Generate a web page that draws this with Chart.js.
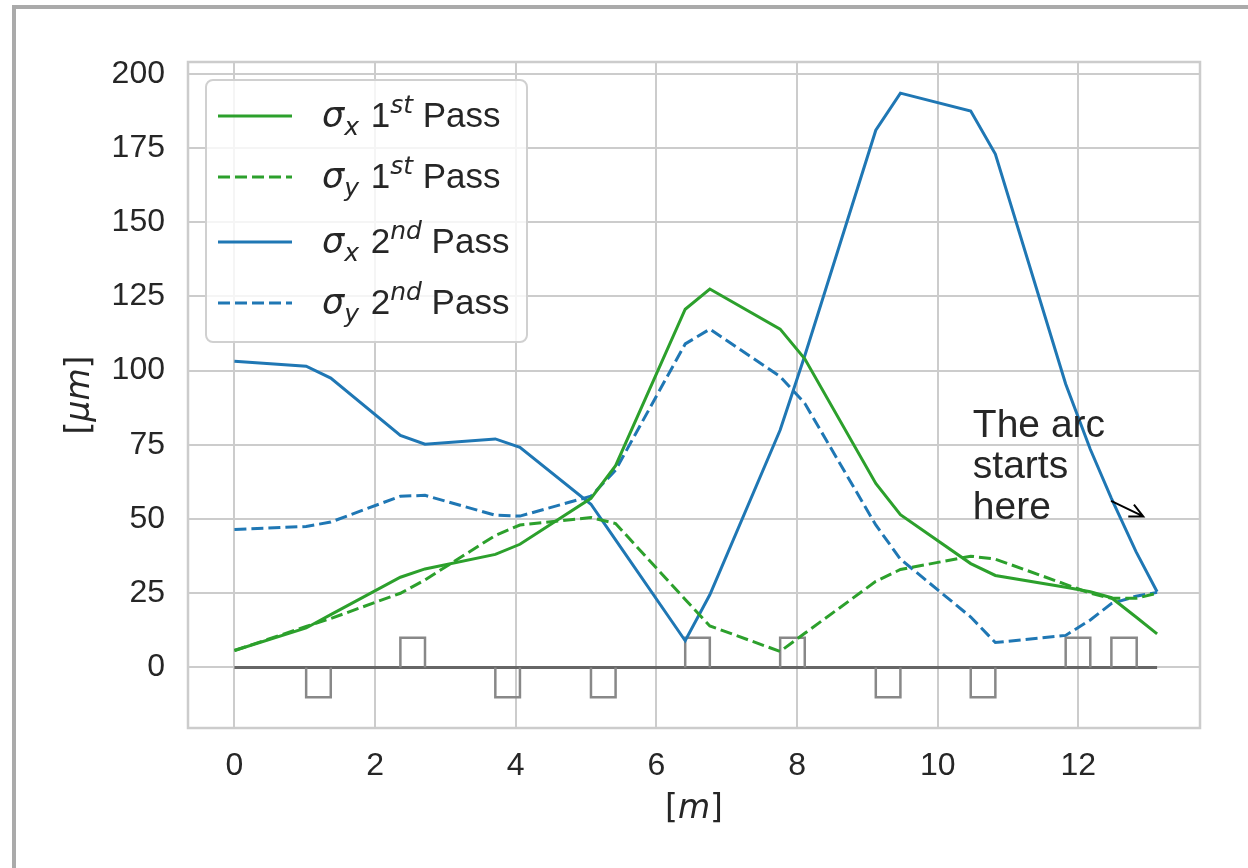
<!DOCTYPE html>
<html>
<head>
<meta charset="utf-8">
<script src="https://cdn.jsdelivr.net/npm/chart.js@4.4.1/dist/chart.umd.min.js"></script>
<style>
  html, body { margin: 0; padding: 0; background: #fff; overflow: hidden; }
  #frame { position: absolute; left: 12px; top: 5px; width: 1300px; height: 900px;
           border: 4px solid #aaaaaa; background: #fff; }
  #chart { position: absolute; left: 0; top: 0; }
</style>
</head>
<body>
<div id="frame"></div>
<canvas id="chart" width="1248" height="868"></canvas>
<script>
// positions along the line [m]
var s = [0, 1.02, 1.37, 2.36, 2.71, 3.71, 4.06, 5.07, 5.42, 6.41, 6.76,
         7.76, 8.11, 9.12, 9.47, 10.47, 10.82, 11.82, 12.17, 12.47, 12.82, 13.12];

// beam sizes [um]
var sigX1 = [5.7, 13.3, 17.8, 30.4, 33.2, 38.1, 41.5, 57, 68, 120.7, 127.5,
             114, 104, 62, 51.5, 35, 31, 27, 25.5, 23.5, 17, 11.3];
var sigY1 = [5.7, 13.8, 16.5, 25, 29.5, 44.5, 48, 50.5, 48.5, 22.9, 14,
             5.4, 11.5, 29, 33, 37.5, 36.5, 28, 25, 23.3, 23.3, 25];
var sigX2 = [103.2, 101.5, 97.5, 78.2, 75.2, 77, 74.2, 55, 43, 9, 24.5,
             80, 105, 181, 193.5, 187.5, 173, 95.5, 73.5, 57, 39, 25.5];
var sigY2 = [46.5, 47.5, 49, 57.7, 58, 51.3, 51, 57.7, 66.5, 109, 114,
             98, 89, 48, 36.5, 17, 8.4, 10.8, 16, 21.5, 24, 25.3];

// lattice: magnet start [m], length [m], sign (+1 box up, -1 box down)
var magStart = [1.02, 2.36, 3.71, 5.07, 6.41, 7.76, 9.12, 10.47, 11.82, 12.47];
var magLen   = [0.35, 0.35, 0.35, 0.35, 0.35, 0.35, 0.35, 0.35, 0.35, 0.36];
var magSign  = [-1, 1, -1, -1, 1, 1, -1, -1, 1, 1];
var magHeight = 10;

var xTicks = [0, 2, 4, 6, 8, 10, 12];
var yTicks = [0, 25, 50, 75, 100, 125, 150, 175, 200];

var GREEN = '#2ca02c', BLUE = '#1f77b4', TXT = '#262626';
var SANS = '"Liberation Sans", Arial, sans-serif';
var MATH = '"DejaVu Sans", sans-serif';

function pts(ys) {
    var out = [];
    for (var i = 0; i < s.length; i++) out.push({x: s[i], y: ys[i]});
    return out;
}

function magnetPath() {
    var out = [];
    for (var i = 0; i < magStart.length; i++) {
        var a = magStart[i], b = magStart[i] + magLen[i], h = magSign[i] * magHeight;
        out.push({x: a, y: 0}, {x: a, y: h}, {x: b, y: h}, {x: b, y: 0}, {x: b, y: null});
    }
    return out;
}

var legendRows = [
    {sub: 'x', num: '1', sup: 'st', color: GREEN, dash: []},
    {sub: 'y', num: '1', sup: 'st', color: GREEN, dash: [12, 5]},
    {sub: 'x', num: '2', sup: 'nd', color: BLUE, dash: []},
    {sub: 'y', num: '2', sup: 'nd', color: BLUE, dash: [12, 5]}
];

function drawLabel(ctx, x, y, row) {
    var F = 35;
    ctx.fillStyle = TXT;
    ctx.textAlign = 'left';
    ctx.textBaseline = 'alphabetic';
    ctx.font = 'italic ' + F + 'px ' + MATH;
    ctx.fillText('\u03c3', x, y); x += ctx.measureText('\u03c3').width;
    ctx.font = 'italic ' + Math.round(F * 0.7) + 'px ' + MATH;
    ctx.fillText(row.sub, x, y + F * 0.22); x += ctx.measureText(row.sub).width;
    ctx.font = F + 'px ' + SANS;
    x += ctx.measureText(' ').width + 2;
    ctx.fillText(row.num, x, y); x += ctx.measureText(row.num).width;
    ctx.font = 'italic ' + Math.round(F * 0.7) + 'px ' + MATH;
    ctx.fillText(row.sup, x, y - F * 0.4); x += ctx.measureText(row.sup).width;
    ctx.font = F + 'px ' + SANS;
    x += ctx.measureText(' ').width;
    ctx.fillText('Pass', x, y);
}

var decor = {
    id: 'decor',
    beforeDatasetsDraw: function(chart) {
        var ctx = chart.ctx, a = chart.chartArea;
        ctx.save();
        ctx.strokeStyle = '#cccccc';
        ctx.lineWidth = 2.5;
        ctx.strokeRect(a.left, a.top, a.right - a.left, a.bottom - a.top);
        ctx.restore();
    },
    afterDatasetsDraw: function(chart) {
        var ctx = chart.ctx, xs = chart.scales.x, ys = chart.scales.y;
        ctx.save();

        // legend
        ctx.beginPath();
        ctx.roundRect(206, 80, 321, 262, 7);
        ctx.fillStyle = 'rgba(255,255,255,0.8)';
        ctx.fill();
        ctx.strokeStyle = '#d0d0d0';
        ctx.lineWidth = 2;
        ctx.stroke();
        var rowY = [116, 177, 242, 303];
        legendRows.forEach(function(r, i) {
            ctx.beginPath();
            ctx.setLineDash(r.dash);
            ctx.strokeStyle = r.color;
            ctx.lineWidth = 3;
            ctx.moveTo(218, rowY[i]);
            ctx.lineTo(292, rowY[i]);
            ctx.stroke();
            ctx.setLineDash([]);
            drawLabel(ctx, 322, rowY[i] + 11, r);
        });

        // annotation
        var lines = ['The arc', 'starts', 'here'];
        var tx = xs.getPixelForValue(10.5), ty = ys.getPixelForValue(50);
        var lh = 41;
        ctx.font = '39px ' + SANS;
        ctx.fillStyle = TXT;
        ctx.textAlign = 'left';
        ctx.textBaseline = 'alphabetic';
        var w = 0;
        lines.forEach(function(l, i) {
            ctx.fillText(l, tx, ty - (lines.length - 1 - i) * lh);
            w = Math.max(w, ctx.measureText(l).width);
        });
        var cx = tx + w / 2, cy = ty - lh - 12;
        var px = xs.getPixelForValue(13), py = ys.getPixelForValue(50);
        var dx = px - cx, dy = py - cy, len = Math.sqrt(dx * dx + dy * dy);
        var ux = dx / len, uy = dy / len;
        var t0 = (tx + w + 6 - cx) / ux;
        var sx = cx + ux * t0, sy = cy + uy * t0;
        var ex = px - ux * 6, ey = py - uy * 6;
        ctx.strokeStyle = '#000';
        ctx.lineWidth = 2;
        ctx.beginPath();
        ctx.moveTo(sx, sy);
        ctx.lineTo(ex, ey);
        var ang = Math.atan2(uy, ux), hl = 15;
        ctx.moveTo(ex - hl * Math.cos(ang - 0.45), ey - hl * Math.sin(ang - 0.45));
        ctx.lineTo(ex, ey);
        ctx.lineTo(ex - hl * Math.cos(ang + 0.45), ey - hl * Math.sin(ang + 0.45));
        ctx.stroke();

        // axis titles
        ctx.fillStyle = TXT;
        var F = 33;
        function mixed(parts) {
            var total = 0;
            parts.forEach(function(p) { ctx.font = (p[1] ? 'italic ' : '') + F + 'px ' + MATH; total += ctx.measureText(p[0]).width; });
            var x = -total / 2;
            parts.forEach(function(p) {
                ctx.font = (p[1] ? 'italic ' : '') + F + 'px ' + MATH;
                ctx.fillText(p[0], x, 0);
                x += ctx.measureText(p[0]).width;
            });
        }
        var area = chart.chartArea;
        ctx.save();
        ctx.translate((area.left + area.right) / 2, 818);
        mixed([['[', false], ['m', true], [']', false]]);
        ctx.restore();
        ctx.save();
        ctx.translate(89, (area.top + area.bottom) / 2);
        ctx.rotate(-Math.PI / 2);
        mixed([['[', false], ['\u03bcm', true], [']', false]]);
        ctx.restore();

        ctx.restore();
    }
};

function lineSet(label, ys, color, dash) {
    return {label: label, data: pts(ys), borderColor: color, borderWidth: 3,
            borderDash: dash, showLine: true, pointRadius: 0, fill: false, tension: 0};
}

new Chart(document.getElementById('chart').getContext('2d'), {
    type: 'scatter',
    data: {
        datasets: [
            lineSet('sigma_x 1st', sigX1, GREEN, []),
            lineSet('sigma_y 1st', sigY1, GREEN, [12, 5]),
            lineSet('sigma_x 2nd', sigX2, BLUE, []),
            lineSet('sigma_y 2nd', sigY2, BLUE, [12, 5]),
            {label: 'magnets', data: magnetPath(), borderColor: '#888888', borderWidth: 2.5,
             showLine: true, spanGaps: false, pointRadius: 0},
            {label: 'axis', data: [{x: 0, y: 0}, {x: s[s.length - 1], y: 0}], borderColor: '#666666',
             borderWidth: 3, showLine: true, pointRadius: 0}
        ]
    },
    options: {
        responsive: false,
        animation: false,
        layout: {padding: {top: 62, right: 48, left: 0, bottom: 0}},
        plugins: {legend: {display: false}, tooltip: {enabled: false}},
        scales: {
            x: {
                type: 'linear', min: -0.66, max: 13.73,
                afterBuildTicks: function(sc) { sc.ticks = xTicks.map(function(v) { return {value: v}; }); },
                afterFit: function(sc) { sc.height = 140; },
                grid: {color: '#cccccc', lineWidth: 2, drawTicks: false},
                border: {display: false},
                ticks: {color: TXT, font: {family: 'Liberation Sans', size: 32}, padding: 19}
            },
            y: {
                type: 'linear', min: -20.4, max: 204,
                afterBuildTicks: function(sc) { sc.ticks = yTicks.map(function(v) { return {value: v}; }); },
                afterFit: function(sc) { sc.width = 188; },
                grid: {color: '#cccccc', lineWidth: 2, drawTicks: false},
                border: {display: false},
                ticks: {color: TXT, font: {family: 'Liberation Sans', size: 32}, padding: 23}
            }
        }
    },
    plugins: [decor]
});
</script>
</body>
</html>
